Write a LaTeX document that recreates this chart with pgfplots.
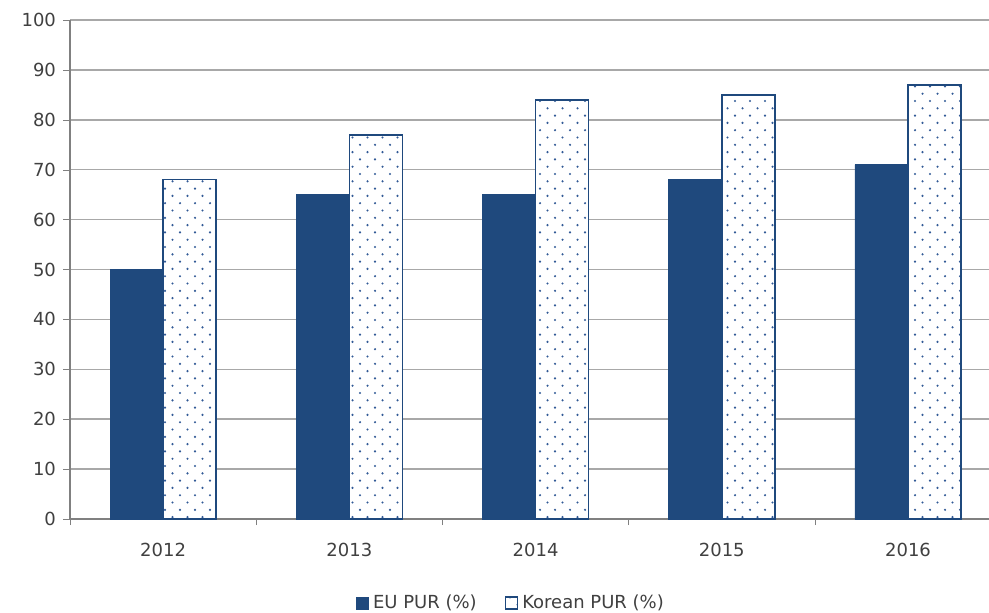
\documentclass[border=0pt]{standalone}
\usepackage{fontspec}
\setmainfont{DejaVu Sans}
\usepackage{pgfplots}
\pgfplotsset{compat=1.18}
\usetikzlibrary{patterns.meta}
\definecolor{eublue}{RGB}{31,73,125}
\definecolor{dotblue}{RGB}{50,90,150}
\definecolor{gridgray}{RGB}{168,168,168}
\definecolor{txt}{RGB}{64,64,64}
\tikzdeclarepattern{
  name=xldots, type=uncolored,
  bottom left={(-1pt,-1pt)}, top right={(6.5pt,6.3pt)},
  tile size={(7.5pt,7.3pt)},
  code={\fill (0,0) circle (0.6pt); \fill (3.75pt,3.65pt) circle (0.6pt);}
}
\begin{document}
\begin{tikzpicture}
  \begin{axis}[
    scale only axis,
    width=459.5pt, height=249.5pt,
    xmin=-0.5, xmax=4.435,
    ymin=0, ymax=100,
    ytick={0,10,...,100},
    xtick={0,1,2,3,4},
    xticklabels={2012,2013,2014,2015,2016},
    minor xtick={-0.5,0.5,1.5,2.5,3.5},
    major x tick style={draw=none},
    minor x tick style={draw=gray},
    minor tick length=3pt,
    major tick length=3.5pt,
    tick align=outside,
    axis x line*=bottom, axis y line*=left,
    axis line style={gray, line width=0.7pt},
    ymajorgrids,
    grid style={gridgray, line width=0.75pt},
    y tick style={gray},
    tick label style={font=\fontsize{9}{10}\selectfont, text=txt},
    /pgf/number format/assume math mode=true,
    xticklabel style={yshift=-5pt},
    ybar, bar width=0.285,
    clip=true,
    legend columns=2,
    legend style={at={(0.481,0)}, anchor=center, yshift=-42pt, draw=none,
      font=\fontsize{9}{10}\selectfont, text=txt,
      /tikz/every even column/.append style={column sep=12pt}},
    legend image code/.code={\draw[#1] (0pt,-3pt) rectangle (6pt,3pt);},
  ]
    \addplot[fill=eublue, draw=eublue, bar shift=-0.1425]
      coordinates {(0,50)(1,65)(2,65)(3,68)(4,71)};
    \addlegendentry{EU PUR (\%)}
    \addplot[draw=eublue, line width=0.8pt, preaction={fill=white},
      pattern={xldots}, pattern color=dotblue, bar shift=0.1425]
      coordinates {(0,68)(1,77)(2,84)(3,85)(4,87)};
    \addlegendentry{Korean PUR (\%)}
  \end{axis}
  \pgfresetboundingbox
  \useasboundingbox ([xshift=-35pt, yshift=-46.5pt]current axis.south west)
    rectangle ([yshift=10pt]current axis.north east);
\end{tikzpicture}
\end{document}
